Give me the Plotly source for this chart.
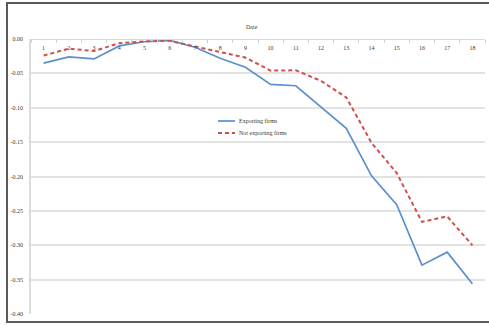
import plotly.graph_objects as go

periods = list(range(1, 19))
period_labels = [str(p) for p in periods]
exporting = [-0.035, -0.026, -0.029, -0.010, -0.004, -0.002, -0.012, -0.028, -0.041,
             -0.066, -0.068, -0.099, -0.130, -0.199, -0.241, -0.329, -0.310, -0.356]
not_exporting = [-0.024, -0.014, -0.0175, -0.006, -0.0035, -0.0025, -0.011, -0.019, -0.027,
                 -0.046, -0.0455, -0.061, -0.085, -0.151, -0.195, -0.266, -0.258, -0.300]
y_tickvals = [0.0, -0.05, -0.10, -0.15, -0.20, -0.25, -0.30, -0.35, -0.40]
y_ticktext = ["0.00", "-0.05", "-0.10", "-0.15", "-0.20", "-0.25", "-0.30", "-0.35", "-0.40"]
series_names = ["Exporting firms", "Not exporting firms"]
series_colors = ["#5b8fd0", "#d0504d"]

FONT = "Liberation Serif"
TXT = "#3a3a3a"
RED_DASH = "4px,3px"

fig = go.Figure()
fig.add_trace(go.Scatter(x=periods, y=exporting, mode="lines", name=series_names[0],
                         line=dict(color=series_colors[0], width=1.7), showlegend=False))
fig.add_trace(go.Scatter(x=periods, y=not_exporting, mode="lines", name=series_names[1],
                         line=dict(color=series_colors[1], width=2, dash=RED_DASH), showlegend=False))

W, H = 489, 326
L, R, T, B = 31, 4, 39, 12
pw, ph = W - L - R, H - T - B

def px(x):
    return (x - L) / pw

def py(y):
    return (H - B - y) / ph

# image frame: top, left and bottom edges as separate open lines
x_l, x_r, y_t, y_b = px(7), px(495), py(3), py(322)
shapes = [
    dict(type="path", xref="paper", yref="paper",
         path=f"M {x_r},{y_t} L {x_l},{y_t} L {x_l},{y_b} L {x_r},{y_b}",
         line=dict(color="#5a5a5a", width=2)),
]
annotations = [dict(text="Date", xref="paper", yref="paper", x=px(252), y=py(22),
                    showarrow=False, font=dict(family=FONT, size=6, color=TXT))]

# custom compact legend
for i, (name, color) in enumerate(zip(series_names, series_colors)):
    yy = 121 + 12 * i
    shapes.append(dict(type="line", xref="paper", yref="paper", x0=px(218), x1=px(235),
                       y0=py(yy), y1=py(yy),
                       line=dict(color=color, width=1.7 if i == 0 else 2,
                                 dash="solid" if i == 0 else RED_DASH)))
    annotations.append(dict(text=name, xref="paper", yref="paper", x=px(237), y=py(yy),
                            xanchor="left", yanchor="middle", showarrow=False,
                            font=dict(family=FONT, size=6, color=TXT)))

fig.update_layout(
    width=W, height=H,
    margin=dict(l=L, r=R, t=T, b=B),
    paper_bgcolor="white", plot_bgcolor="white",
    font=dict(family=FONT, size=6, color=TXT),
    showlegend=False,
    xaxis=dict(
        range=[0.5, 18.5], anchor="free", position=1.0, side="bottom",
        tickmode="array", tickvals=periods, ticktext=period_labels,
        ticks="", showgrid=False, zeroline=False,
        showline=True, linecolor="#d9d9d9", linewidth=1,
        ticklabelstandoff=3,
        tickfont=dict(family=FONT, size=6, color=TXT),
        minor=dict(tickmode="array", tickvals=[p + 0.5 for p in [0] + periods],
                   ticks="outside", ticklen=3, tickcolor="#d0d0d0", showgrid=False),
    ),
    yaxis=dict(
        range=[-0.40, 0.0], tickmode="array", tickvals=y_tickvals, ticktext=y_ticktext,
        showgrid=True, gridcolor="#e3e3e3", gridwidth=1.5, zeroline=False,
        showline=True, linecolor="#dcdcdc", linewidth=1.5, ticks="",
        ticklabelstandoff=5,
        tickfont=dict(family=FONT, size=6, color=TXT),
    ),
    annotations=annotations,
    shapes=shapes,
)

fig.write_html("out.html", config={"displayModeBar": False},
               post_script="document.body.style.margin='0';document.body.style.overflow='hidden';"
                           "document.documentElement.style.overflow='hidden';")
